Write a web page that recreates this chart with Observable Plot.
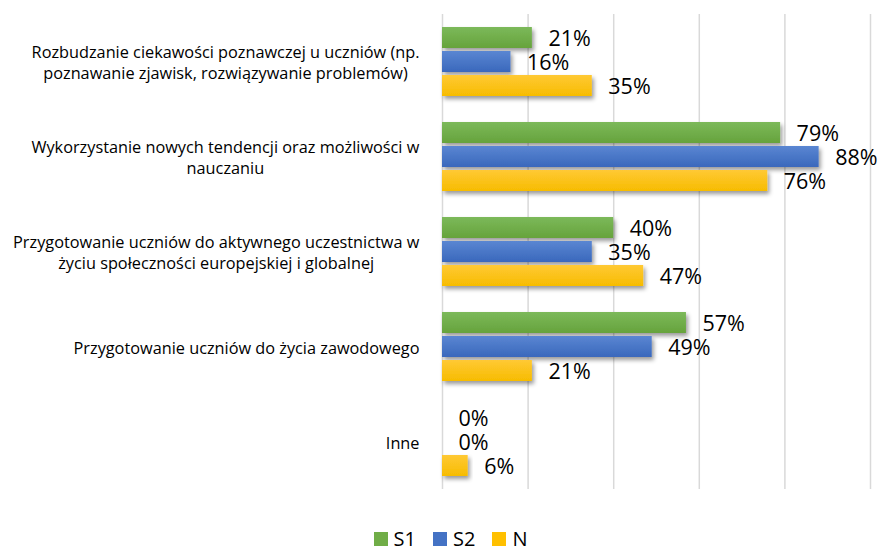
<!DOCTYPE html>
<html>
<head>
<meta charset="utf-8">
<script src="https://cdn.jsdelivr.net/npm/d3@7"></script>
<script src="https://cdn.jsdelivr.net/npm/@observablehq/plot@0.6"></script>
<style>
  html, body { margin: 0; padding: 0; background: #fff; }
  #chart { width: 883px; }
  .lg-swatches { justify-content: center; padding-left: 18px; margin-top: 0; min-height: 0 !important; height: 26px; line-height: 26px; }
  .lg-swatch { margin-right: 17px !important; line-height: 26px; }
  .lg-swatch:last-child { margin-right: 0 !important; }
  .lg-swatch > svg { margin-right: 6px !important; }
</style>
</head>
<body>
<div id="chart"></div>
<script>
const categories = [
  "Rozbudzanie ciekawości poznawczej u uczniów (np.\npoznawanie zjawisk, rozwiązywanie problemów)",
  "Wykorzystanie nowych tendencji oraz możliwości w\nnauczaniu",
  "Przygotowanie uczniów do aktywnego uczestnictwa w\nżyciu społeczności europejskiej i globalnej",
  "Przygotowanie uczniów do życia zawodowego",
  "Inne"
];
const seriesNames = ["S1", "S2", "N"];
const seriesColors = ["#70AD47", "#4472C4", "#FFC000"];
const valuesS1 = [21, 79, 40, 57, 0];
const valuesS2 = [16, 88, 35, 49, 0];
const valuesN  = [35, 76, 47, 21, 6];
const xTicks = [0, 20, 40, 60, 80, 100];

const seriesValues = [valuesS1, valuesS2, valuesN];
const data = [];
categories.forEach((c, i) => {
  seriesNames.forEach((s, j) => {
    data.push({category: c, series: s, value: seriesValues[j][i]});
  });
});

const font = "'Open Sans', sans-serif";

const plot = Plot.plot({
  width: 883,
  height: 526,
  marginLeft: 442,
  marginRight: 13,
  marginTop: 12,
  marginBottom: 36,
  style: {fontFamily: font, background: "#fff"},
  x: {domain: [0, 100], axis: null},
  y: {domain: seriesNames, axis: null, paddingInner: 0.12, paddingOuter: 0.5},
  fy: {domain: categories, padding: 0, axis: null},
  color: {domain: seriesNames, range: seriesColors},
  marks: [
    Plot.ruleX(xTicks, {stroke: "#d9d9d9", strokeWidth: 1.5}),
    Plot.barX(data, {x: "value", y: "series", fy: "category", fill: "series"}),
    Plot.text(data, {
      x: "value", y: "series", fy: "category",
      text: d => d.value + "%",
      textAnchor: "start", dx: 16, dy: 1.5,
      fontSize: 21.5, fill: "#000"
    }),
    Plot.axisFy({
      anchor: "left", tickSize: 0, tickPadding: 23,
      fontSize: 16.3, lineHeight: 1.29, fill: "#000",
      label: null
    })
  ]
});

document.getElementById("chart").appendChild(plot);

// Excel-like gradients and drop shadow
const svg = d3.select(plot);
const defs = svg.insert("defs", ":first-child");
const grads = [["#7cb95a", "#66a33c"], ["#5a86d2", "#3a68bc"], ["#ffc935", "#f7bc00"]];
grads.forEach((g, i) => {
  const lg = defs.append("linearGradient").attr("id", "grad" + i)
    .attr("x1", 0).attr("y1", 0).attr("x2", 0).attr("y2", 1);
  lg.append("stop").attr("offset", "0%").attr("stop-color", g[0]);
  lg.append("stop").attr("offset", "100%").attr("stop-color", g[1]);
});
const f = defs.append("filter").attr("id", "shadow")
  .attr("x", "-10%").attr("y", "-30%").attr("width", "130%").attr("height", "180%");
f.append("feDropShadow").attr("dx", 2).attr("dy", 3).attr("stdDeviation", 2)
  .attr("flood-color", "#000").attr("flood-opacity", 0.4);

svg.selectAll("g[aria-label='bar'] rect").each(function() {
  const fill = (this.getAttribute("fill") || "").toLowerCase();
  const idx = seriesColors.map(c => c.toLowerCase()).indexOf(fill);
  if (idx >= 0) this.setAttribute("fill", `url(#grad${idx})`);
  if (+this.getAttribute("width") > 0) this.setAttribute("filter", "url(#shadow)");
});

// center multi-line category labels within their block (right edge fixed)
svg.selectAll("g[aria-label='fy-axis tick label'] text").each(function() {
  const w = this.getBBox().width;
  const tspans = this.querySelectorAll("tspan");
  this.setAttribute("text-anchor", "middle");
  if (tspans.length) {
    tspans.forEach(t => t.setAttribute("x", -w / 2));
  } else {
    this.setAttribute("x", -w / 2);
  }
});

const legend = Plot.legend({
  color: {domain: seriesNames, range: seriesColors},
  legend: "swatches",
  swatchSize: 14,
  className: "lg",
  style: {fontFamily: font, fontSize: "20px", color: "#000"}
});
document.getElementById("chart").appendChild(legend);
</script>
</body>
</html>
